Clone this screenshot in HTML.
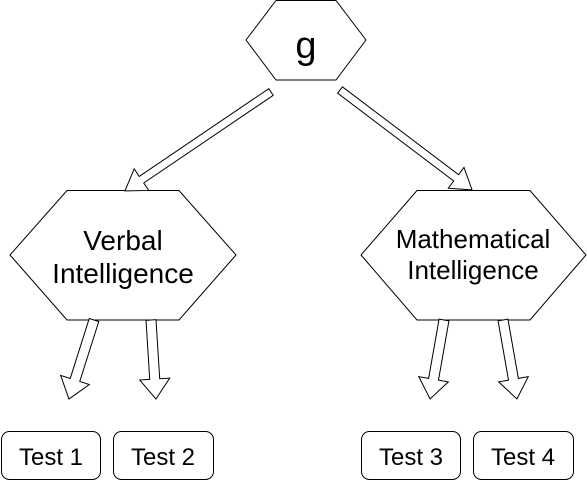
<!DOCTYPE html>
<html><head><meta charset="utf-8"><style>
html,body{margin:0;padding:0;background:#fff;}
svg{display:block;}
text{font-family:"Liberation Sans",Arial,sans-serif;fill:#000;}
</style></head><body>
<svg width="587" height="482" viewBox="0 0 587 482" xmlns="http://www.w3.org/2000/svg">
<g fill="#fff" stroke="#000" stroke-width="1">
<polygon points="276,0.5 336,0.5 366,40 336,80 276,80 246,40"/>
<polygon points="67,190.5 179,190.5 236,255 179,320 67,320 10,255"/>
<polygon points="417,190.5 530,190.5 586,255 530,320 417,320 361,255"/>
<rect x="1.5" y="431.5" width="99" height="48" rx="8"/>
<rect x="113.5" y="431.5" width="100" height="48" rx="8"/>
<rect x="361.5" y="431.5" width="99" height="48" rx="8"/>
<rect x="473.5" y="431.5" width="100" height="48" rx="8"/>
<polygon transform="translate(271,92) rotate(145.9)" points="0,-4 156.4,-4 156.4,-13 176.4,0 156.4,13 156.4,4 0,4"/>
<polygon transform="translate(340,90) rotate(37.1)" points="0,-4 145.6,-4 145.6,-13 165.6,0 145.6,13 145.6,4 0,4"/>
<polygon transform="translate(94,320) rotate(107.6)" points="0,-5 62.9,-5 62.9,-15 82.9,0 62.9,15 62.9,5 0,5"/>
<polygon transform="translate(151,320) rotate(86.4)" points="0,-5 59.2,-5 59.2,-15 79.2,0 59.2,15 59.2,5 0,5"/>
<polygon transform="translate(444,320) rotate(100)" points="0,-5 60.2,-5 60.2,-15 80.2,0 60.2,15 60.2,5 0,5"/>
<polygon transform="translate(503,320) rotate(80)" points="0,-5 60.2,-5 60.2,-15 80.2,0 60.2,15 60.2,5 0,5"/>
</g>
<text x="306" y="58" font-size="38" text-anchor="middle">g</text>
<text x="123" y="250" font-size="28" text-anchor="middle">Verbal</text>
<text x="123" y="283" font-size="28" text-anchor="middle">Intelligence</text>
<text x="473" y="248" font-size="26" text-anchor="middle">Mathematical</text>
<text x="473" y="279" font-size="26" text-anchor="middle">Intelligence</text>
<text x="51" y="465" font-size="24" text-anchor="middle">Test 1</text>
<text x="163" y="465" font-size="24" text-anchor="middle">Test 2</text>
<text x="411" y="465" font-size="24" text-anchor="middle">Test 3</text>
<text x="523" y="465" font-size="24" text-anchor="middle">Test 4</text>
</svg>
</body></html>
